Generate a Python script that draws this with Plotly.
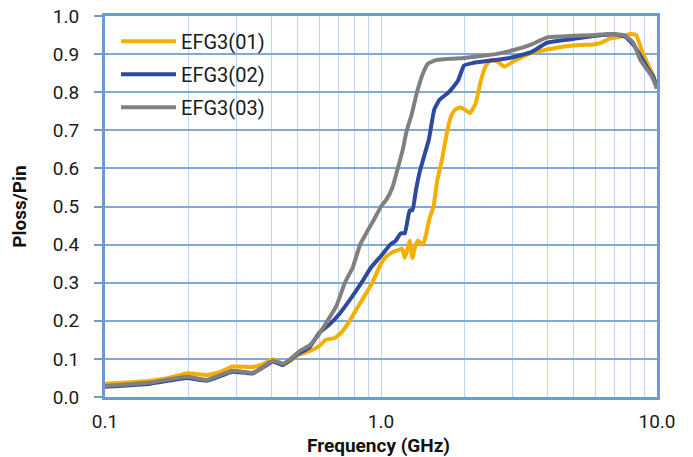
import plotly.graph_objects as go

# EFG3(01) - yellow
f_01 = [0.1, 0.12, 0.146, 0.17, 0.198, 0.234, 0.26, 0.29, 0.344, 0.37, 0.406, 0.442, 0.47, 0.5,
        0.55, 0.6, 0.63, 0.68, 0.72, 0.77, 0.83, 0.88, 0.93, 1.0, 1.05, 1.1, 1.15, 1.19, 1.22,
        1.25, 1.27, 1.3, 1.33, 1.36, 1.42, 1.46, 1.5, 1.55, 1.6, 1.66, 1.74, 1.8, 1.86, 1.95,
        2.05, 2.1, 2.2, 2.3, 2.4, 2.5, 2.65, 2.8, 3.0, 3.26, 3.6, 4.0, 4.6, 5.3, 5.86, 6.3, 6.7,
        7.3, 8.0, 8.4, 8.9, 9.5, 10.0]
p_01 = [0.035, 0.038, 0.043, 0.05, 0.062, 0.058, 0.065, 0.08, 0.079, 0.085, 0.099, 0.087, 0.095,
        0.11, 0.12, 0.135, 0.15, 0.155, 0.17, 0.2, 0.24, 0.27, 0.3, 0.35, 0.37, 0.38, 0.385, 0.39,
        0.365, 0.39, 0.41, 0.365, 0.395, 0.41, 0.4, 0.43, 0.47, 0.5, 0.57, 0.62, 0.7, 0.74, 0.755,
        0.76, 0.75, 0.745, 0.77, 0.83, 0.87, 0.885, 0.88, 0.867, 0.88, 0.893, 0.905, 0.912, 0.92,
        0.924, 0.925, 0.93, 0.94, 0.945, 0.953, 0.95, 0.9, 0.858, 0.815]

# EFG3(02) - blue
f_02 = [0.1, 0.146, 0.198, 0.234, 0.29, 0.344, 0.406, 0.442, 0.5, 0.55, 0.6, 0.65, 0.71, 0.78,
        0.85, 0.92, 1.0, 1.08, 1.13, 1.18, 1.22, 1.27, 1.3, 1.34, 1.38, 1.43, 1.49, 1.56, 1.63,
        1.76, 1.9, 2.0, 2.16, 2.5, 2.93, 3.5, 4.0, 5.0, 6.0, 7.0, 7.7, 8.3, 8.8, 9.3, 9.7, 10.0]
p_02 = [0.027, 0.035, 0.05, 0.043, 0.066, 0.062, 0.093, 0.084, 0.113, 0.13, 0.17, 0.19, 0.22,
        0.26, 0.3, 0.34, 0.37, 0.4, 0.41, 0.43, 0.43, 0.49, 0.49, 0.545, 0.59, 0.63, 0.675, 0.755,
        0.78, 0.8, 0.83, 0.87, 0.877, 0.883, 0.89, 0.905, 0.93, 0.94, 0.948, 0.952, 0.945, 0.92,
        0.89, 0.86, 0.84, 0.81]

# EFG3(03) - grey
f_03 = [0.1, 0.146, 0.198, 0.234, 0.29, 0.344, 0.406, 0.442, 0.47, 0.51, 0.55, 0.59, 0.64, 0.69,
        0.74, 0.79, 0.84, 0.9, 0.95, 1.0, 1.05, 1.1, 1.15, 1.2, 1.24, 1.29, 1.35, 1.42, 1.48, 1.53,
        1.6, 1.8, 2.0, 2.3, 2.6, 3.0, 3.5, 4.0, 5.0, 6.0, 6.6, 7.6, 8.2, 8.7, 9.2, 9.6, 10.0]
p_03 = [0.029, 0.038, 0.053, 0.045, 0.069, 0.064, 0.095, 0.087, 0.1, 0.122, 0.135, 0.16, 0.2,
        0.24, 0.3, 0.34, 0.4, 0.44, 0.47, 0.5, 0.52, 0.55, 0.6, 0.65, 0.7, 0.74, 0.8, 0.85, 0.875,
        0.88, 0.885, 0.888, 0.89, 0.895, 0.9, 0.91, 0.925, 0.944, 0.948, 0.95, 0.953, 0.95, 0.93,
        0.885, 0.86, 0.84, 0.81]

x_ticks = [0.1, 0.2, 0.3, 0.4, 0.5, 0.6, 0.7, 0.8, 0.9, 1, 2, 3, 4, 5, 6, 7, 8, 9, 10]
x_labels = ["0.1"] + [""] * 8 + ["1.0"] + [""] * 8 + ["10.0"]
y_ticks = [round(i * 0.1, 1) for i in range(11)]
y_labels = [f"{v:.1f}" for v in y_ticks]

series = [
    ("EFG3(01)", f_01, p_01, "#F5AF00"),
    ("EFG3(02)", f_02, p_02, "#2E4A9E"),
    ("EFG3(03)", f_03, p_03, "#808080"),
]

fig = go.Figure()
for name, f, p, col in series:
    fig.add_trace(go.Scatter(x=f, y=p, name=name, mode="lines", legendgroup=name,
                             line=dict(color=col, width=4, shape="spline", smoothing=0.4)))

axis_blue = "#6B9BD1"
fig.update_layout(
    width=693, height=457,
    margin=dict(l=105, r=36, t=16, b=60),
    paper_bgcolor="white", plot_bgcolor="white",
    font=dict(family="Roboto", size=19, color="#1a1a1a"),
    showlegend=True,
    legend=dict(x=0.02, y=0.985, xanchor="left", yanchor="top",
                bgcolor="rgba(0,0,0,0)", font=dict(size=20), tracegroupgap=4,
                itemwidth=55),
    xaxis=dict(type="log", range=[-1, 1], tickvals=x_ticks, ticktext=x_labels,
               showgrid=True, gridcolor="#BBD7F2", gridwidth=1.2,
               showline=True, linecolor=axis_blue, linewidth=3, mirror=True,
               ticks="", zeroline=False, ticklabelstandoff=5, automargin=False),
    yaxis=dict(range=[0, 1.0], tickvals=y_ticks, ticktext=y_labels,
               showgrid=True, gridcolor="#7FA9D9", gridwidth=1.6,
               showline=True, linecolor=axis_blue, linewidth=3, mirror=True,
               ticks="outside", ticklen=8, tickwidth=2, tickcolor=axis_blue,
               zeroline=False, ticklabelstandoff=11, automargin=False,
               title=dict(text="<b>Ploss/Pin</b>", font=dict(size=19, color="#111"),
                          standoff=22)),
)

# x title as an annotation so it sits just under the tick labels
fig.add_annotation(text="<b>Frequency (GHz)</b>", xref="paper", yref="paper",
                   x=0.495, y=-0.126, xanchor="center", yanchor="middle", showarrow=False,
                   font=dict(size=19, color="#111"))

# drop the default page margin so the figure sits at the window's corner
fig.write_html("out.html", config={"displayModeBar": False},
               post_script="document.body.style.margin='0';")
